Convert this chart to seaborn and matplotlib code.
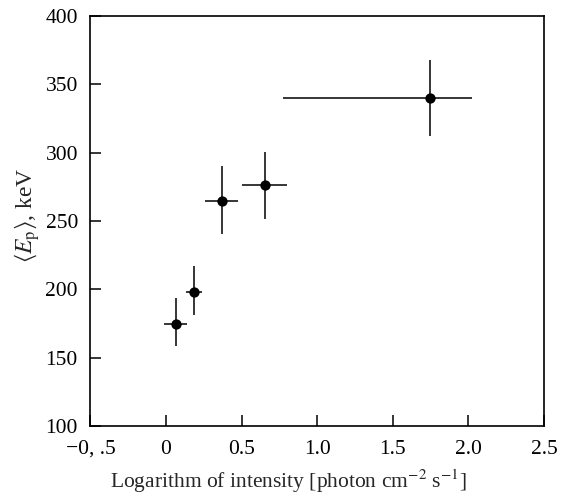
import matplotlib
matplotlib.use("Agg")
import matplotlib.pyplot as plt
import seaborn as sns
import numpy as np
import pandas as pd

# Data
log_intensity = [0.064, 0.185, 0.368, 0.653, 1.748]
ep_kev = [175.0, 198.0, 265.0, 276.5, 340.0]
xerr_low = [0.077, 0.05, 0.108, 0.15, 0.972]
xerr_high = [0.077, 0.05, 0.108, 0.15, 0.276]
yerr_low = [16.5, 17.0, 24.5, 25.0, 27.8]
yerr_high = [18.5, 19.0, 25.5, 24.0, 27.8]

x_ticks = [-0.5, 0.0, 0.5, 1.0, 1.5, 2.0, 2.5]
x_ticklabels = ["\u22120, .5", "0", "0.5", "1.0", "1.5", "2.0", "2.5"]
y_ticks = [100, 150, 200, 250, 300, 350, 400]

sns.set_theme(style="ticks")
plt.rcParams["font.family"] = ["Liberation Serif", "DejaVu Serif"]
plt.rcParams["mathtext.fontset"] = "stix"

df = pd.DataFrame({"x": log_intensity, "y": ep_kev})

fig = plt.figure(figsize=(5.67, 4.95), dpi=100)
ax = fig.add_axes([90.4 / 567, 69 / 495, (544 - 90.4) / 567, (426 - 16) / 495])

ax.errorbar(df["x"], df["y"],
            xerr=[xerr_low, xerr_high], yerr=[yerr_low, yerr_high],
            fmt="none", ecolor="black", elinewidth=1.1, capsize=0, zorder=2)
sns.scatterplot(data=df, x="x", y="y", ax=ax, color="black", s=55,
                edgecolor="black", linewidth=0, zorder=3, legend=False)

ax.set_xlim(-0.5, 2.5)
ax.set_ylim(100, 400)
ax.set_xticks(x_ticks)
ax.set_xticklabels(x_ticklabels)
ax.set_yticks(y_ticks)

ax.tick_params(direction="in", length=8, width=1.1, labelsize=15.5,
               colors="black", top=False, right=False)
ax.tick_params(axis="x", pad=10)
ax.tick_params(axis="y", pad=9)
for s in ax.spines.values():
    s.set_linewidth(1.2)
    s.set_color("black")
    s.set_visible(True)

ax.set_xlabel("Logarithm of intensity [photon cm$^{-2}$ s$^{-1}$]", fontsize=15.5)
ax.xaxis.set_label_coords(0.436, -0.135, transform=ax.transAxes)
ax.xaxis.label.set_verticalalignment("center")
ax.set_ylabel(r"$\langle E_{\mathrm{p}}\rangle$, keV", fontsize=17)
ax.yaxis.set_label_coords(-0.14, 0.515, transform=ax.transAxes)
ax.yaxis.label.set_verticalalignment("center")

fig.savefig("out.png", dpi=100)
